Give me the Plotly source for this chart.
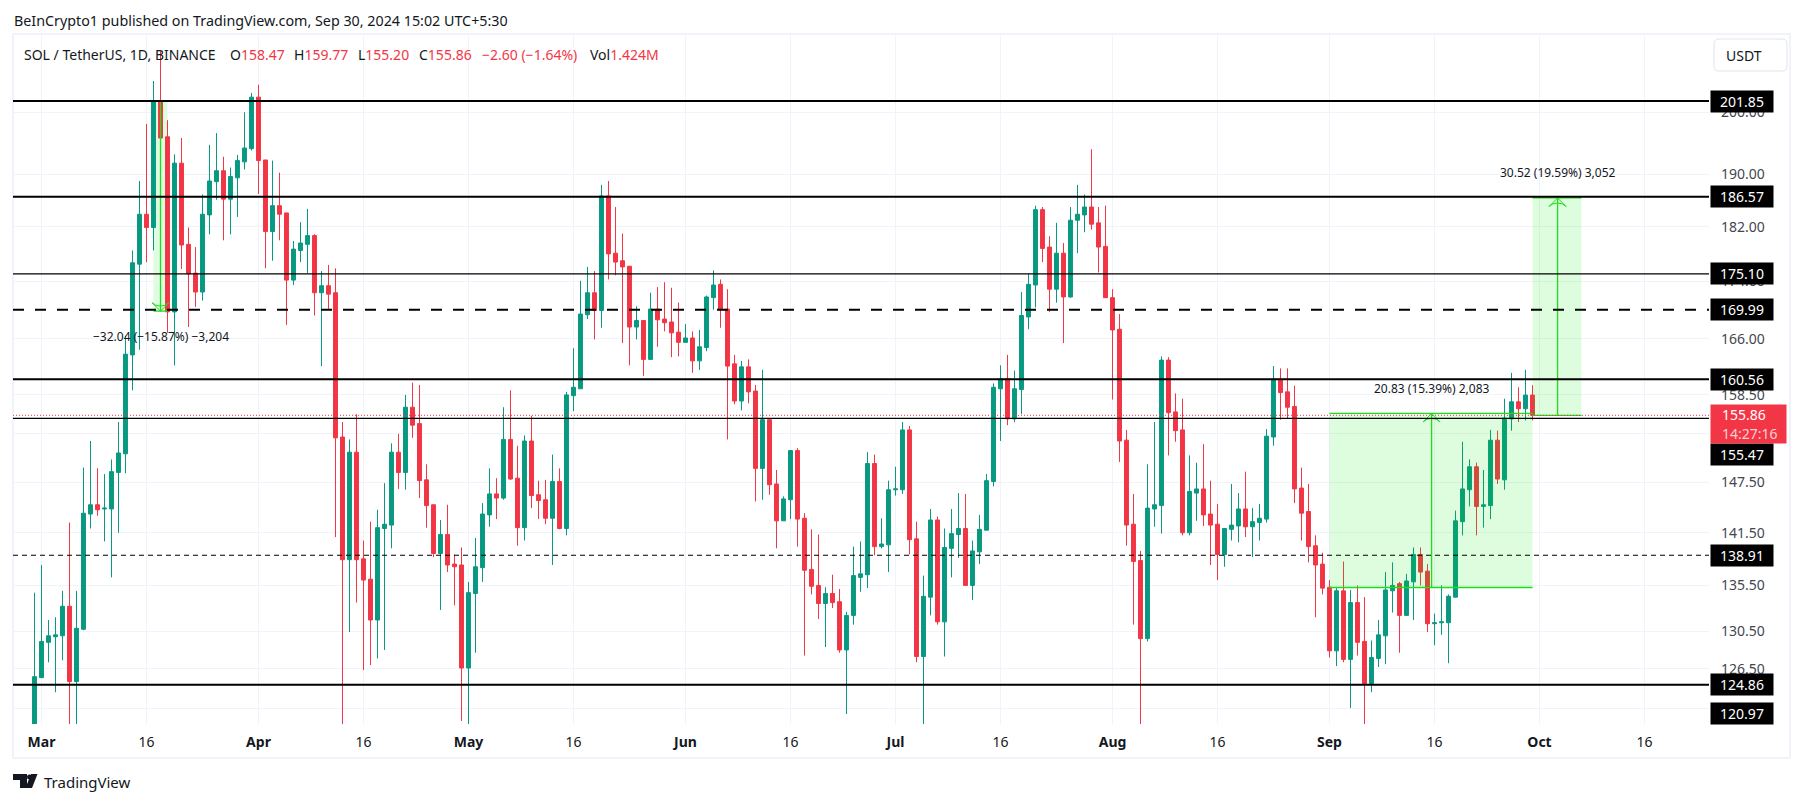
import math
import pandas as pd
import plotly.graph_objects as go

# Daily SOL/USDT candles, Feb 29 then one row per month
opens_feb = [117.4]
highs_feb = [134.7]
lows_feb = [116.4]
closes_feb = [125.7]

opens_mar = [125.6,129.3,129.9,130.0,133.2,125.2,130.7,143.7,144.8,144.3,144.3,148.7,151.0,163.8,176.5,183.9,181.9,201.85,196.0,169.7,191.8,179.4,175.2,172.5,183.8,188.9,190.6,186.2,189.5,192.0,194.1]
highs_mar = [137.8,131.7,132.0,134.9,142.7,134.9,149.3,152.6,149.2,148.5,150.3,155.0,166.4,178.5,189.0,198.1,205.2,210.3,198.7,193.2,195.8,181.9,179.0,186.9,194.7,196.6,192.8,191.1,193.1,200.0,203.2]
lows_mar = [125.6,127.2,124.1,127.4,120.3,119.8,130.6,142.0,143.5,140.5,136.4,141.5,148.6,159.1,164.5,176.8,178.5,193.9,166.8,162.4,175.8,167.6,170.4,171.3,180.9,186.1,180.0,180.9,183.5,190.8,193.8]
closes_mar = [129.4,130.0,130.1,133.2,125.2,130.8,143.8,144.8,144.2,144.4,148.8,151.1,163.9,176.7,183.9,181.9,201.85,195.8,169.7,191.8,179.3,175.1,172.5,183.9,189.0,190.6,186.2,189.7,192.2,194.2,202.5]

opens_apr = [202.5,192.3,181.3,185.2,184.1,174.2,178.5,179.4,180.7,172.4,173.4,172.4,153.1,138.4,151.2,138.5,136.2,131.7,142.0,142.4,151.2,148.7,156.9,154.8,147.8,144.8,139.1,141.3,137.9,137.8]
highs_apr = [204.6,192.3,192.2,190.3,184.1,179.9,182.7,184.7,180.9,175.5,176.4,175.9,155.0,152.8,156.0,140.6,142.8,144.2,147.4,152.3,153.5,158.5,160.1,159.8,149.7,144.8,143.0,144.8,139.0,139.8]
lows_apr = [187.0,175.9,177.0,180.0,167.9,173.5,176.8,175.2,169.2,162.3,170.0,141.0,117.4,130.4,133.6,126.4,126.9,127.6,128.5,139.7,146.7,146.6,153.0,145.6,142.1,138.7,132.8,137.0,133.3,121.2]
closes_apr = [192.2,181.3,185.2,183.9,174.2,178.7,179.6,180.7,172.4,173.4,172.2,153.0,138.4,151.2,138.4,136.1,131.7,142.1,142.5,151.2,148.7,156.9,154.6,147.7,144.7,139.1,141.3,137.8,137.6,126.6]

opens_may = [126.6,134.6,137.5,143.6,146.1,145.6,152.8,148.0,142.1,152.6,146.0,145.4,143.2,147.6,142.0,158.4,159.3,169.3,172.4,169.9,186.7,178.1,177.0,176.2,167.6,168.5,163.2,170.1,168.7,168.3,166.9]
highs_may = [135.9,140.9,145.0,149.2,148.0,156.9,159.1,152.0,153.3,155.8,147.7,147.8,150.9,149.2,158.9,164.7,174.1,176.1,175.5,188.4,189.0,185.0,181.0,176.2,170.5,168.5,172.4,173.2,173.9,173.1,171.0]
lows_may = [120.3,128.2,135.9,142.2,143.1,145.4,147.8,140.0,140.6,144.4,143.1,142.5,137.8,141.9,141.2,156.4,159.3,168.7,165.9,167.5,174.3,174.9,165.4,162.4,165.9,161.0,163.2,164.9,167.0,163.5,163.6]
closes_may = [134.7,137.6,143.7,146.1,145.6,152.8,147.9,142.1,152.6,145.9,145.3,143.2,147.6,142.0,158.5,159.5,169.4,172.4,169.9,186.7,178.0,176.8,176.1,167.6,168.5,163.2,170.1,168.6,168.2,166.8,165.5]

opens_jun = [165.5,166.1,163.0,164.8,171.7,173.6,170.1,162.6,157.7,162.2,159.0,149.2,155.3,147.3,142.9,145.4,151.4,143.2,137.3,135.5,133.5,134.6,133.7,128.5,132.2,136.4,136.7,149.8,139.9,140.1]
highs_jun = [168.0,167.0,167.2,172.0,175.6,174.3,172.9,163.8,163.0,163.2,159.8,161.8,155.3,149.0,145.8,151.4,151.7,143.8,141.9,141.3,135.3,136.7,135.1,132.6,139.9,140.5,151.2,150.9,143.2,147.7]
lows_jun = [165.5,161.4,161.8,164.3,170.0,167.5,152.8,157.3,156.5,157.4,145.2,145.4,146.0,139.7,142.9,143.1,139.9,127.9,134.5,131.8,128.8,133.0,128.2,121.9,131.2,134.8,135.2,138.9,139.7,137.0]
closes_jun = [166.1,163.0,164.9,171.8,173.5,170.0,162.3,157.7,162.2,158.9,149.2,155.3,147.2,142.9,145.5,151.4,143.1,137.2,135.4,133.5,134.6,133.6,128.5,132.2,136.6,136.8,149.8,139.9,140.2,146.6]

opens_jul = [146.6,146.6,154.0,140.8,127.8,134.2,143.0,131.5,139.7,141.3,142.0,135.5,139.3,141.8,147.6,159.3,160.6,155.4,159.2,169.0,173.5,184.6,179.0,172.9,178.1,171.8,183.0,183.8,185.0,182.6,179.1]
highs_jul = [149.4,155.0,154.5,142.8,136.6,144.3,143.4,142.0,144.3,146.2,146.1,140.6,143.6,148.5,160.0,162.4,163.8,161.7,172.5,175.1,185.2,185.0,180.6,182.6,179.6,185.0,188.4,186.9,194.0,185.0,185.2]
lows_jul = [145.9,146.1,139.0,127.2,120.3,132.2,131.2,127.8,136.4,138.6,135.5,133.9,137.9,141.8,147.0,152.6,154.6,155.0,156.0,167.3,170.3,176.8,169.7,171.0,165.4,171.7,178.1,181.2,181.6,175.3,171.7]
closes_jul = [146.7,154.0,140.7,127.8,134.3,143.0,131.5,139.8,141.4,142.0,135.5,139.4,141.9,147.7,159.5,160.6,155.4,159.3,169.2,173.6,184.6,178.8,172.9,178.1,171.8,183.0,183.9,185.0,182.4,179.0,171.7]

opens_aug = [171.7,167.3,152.7,142.5,138.3,129.7,144.3,144.7,163.1,156.3,154.0,141.5,146.2,146.7,143.7,142.5,139.0,141.9,142.3,144.3,142.2,142.7,143.1,153.1,160.6,158.9,157.0,146.8,144.0,140.0,137.9]
highs_aug = [172.9,169.4,154.0,146.1,139.4,149.7,155.0,163.6,163.5,158.7,158.0,150.8,149.9,152.2,147.7,144.9,142.0,147.3,146.2,148.8,144.4,144.9,154.1,162.3,162.0,162.0,159.7,149.3,147.3,141.2,139.2]
lows_aug = [157.9,150.0,140.0,131.2,120.3,129.4,142.2,141.4,150.8,152.5,141.2,141.2,142.9,142.3,137.8,136.1,137.6,140.6,140.4,141.0,138.7,140.6,142.7,152.0,155.3,155.5,145.0,140.6,138.1,132.0,134.5]
closes_aug = [167.2,152.6,142.4,138.2,129.7,144.4,144.8,163.1,156.2,153.9,141.5,146.4,146.7,143.6,142.4,139.0,142.0,142.4,144.3,142.2,142.8,143.2,153.2,160.6,158.8,156.9,146.7,143.8,139.9,137.8,135.2]

opens_sep = [135.3,128.4,134.9,127.5,133.6,129.4,125.0,127.6,130.0,134.9,135.7,132.2,135.9,139.0,137.1,131.3,131.4,131.4,134.2,142.8,146.6,149.4,144.6,144.7,152.7,147.8,155.4,157.6,156.7,158.47]
highs_sep = [136.1,135.2,138.2,135.0,135.5,134.2,129.5,131.7,137.0,138.1,135.9,136.8,139.8,139.8,137.9,132.4,135.5,134.5,144.1,152.5,150.3,149.9,149.0,154.0,153.9,158.0,161.4,159.5,161.8,159.77]
lows_sep = [127.7,126.8,127.2,122.5,127.9,120.3,124.1,126.7,127.0,132.5,128.2,132.2,131.7,135.5,130.4,129.0,130.1,127.1,134.2,141.2,144.6,141.2,142.1,143.1,147.3,146.6,153.9,155.0,155.2,155.20]
closes_sep = [128.4,134.9,127.5,133.6,129.3,125.0,127.7,130.1,135.0,135.5,132.2,136.0,139.0,137.0,131.3,131.4,131.5,134.3,142.9,146.7,149.4,144.6,144.8,152.7,147.9,155.5,157.6,156.7,158.47,155.86]

opens = opens_feb + opens_mar + opens_apr + opens_may + opens_jun + opens_jul + opens_aug + opens_sep
highs = highs_feb + highs_mar + highs_apr + highs_may + highs_jun + highs_jul + highs_aug + highs_sep
lows = lows_feb + lows_mar + lows_apr + lows_may + lows_jun + lows_jul + lows_aug + lows_sep
closes = closes_feb + closes_mar + closes_apr + closes_may + closes_jun + closes_jul + closes_aug + closes_sep
dates = pd.date_range("2024-02-29", "2024-09-30", freq="D")

# Horizontal levels drawn on the chart
solid_thick = [201.85, 186.57, 160.56, 124.86]
solid_thin = [175.10, 155.47]
dashed_thick = [169.99]
dashed_thin = [138.91]
last_price = 155.86
label_prices = ["201.85", "186.57", "175.10", "169.99", "160.56", "138.91", "124.86"]

# Price axis ticks, two of them sit fully behind the price labels
y_ticks = [122.5, 126.5, 130.5, 135.5, 141.5, 147.5, 153.5, 158.5, 166.0, 174.0, 182.0, 190.0, 200.0]
y_labels = ["", "126.50", "130.50", "135.50", "141.50", "147.50", "", "158.50", "166.00", "174.00", "182.00", "190.00", "200.00"]
x_ticks = ["2024-03-01", "2024-03-16", "2024-04-01", "2024-04-16", "2024-05-01", "2024-05-16", "2024-06-01", "2024-06-16",
           "2024-07-01", "2024-07-16", "2024-08-01", "2024-08-16", "2024-09-01", "2024-09-16", "2024-10-01", "2024-10-16"]
x_labels = ["<b>Mar</b>", "16", "<b>Apr</b>", "16", "<b>May</b>", "16", "<b>Jun</b>", "16",
            "<b>Jul</b>", "16", "<b>Aug</b>", "16", "<b>Sep</b>", "16", "<b>Oct</b>", "16"]

# Price range measurements: start, end, arrow date, from price, to price, label
measure_start = ["2024-03-17", "2024-09-01", "2024-09-30"]
measure_end = ["2024-03-19", "2024-09-30", "2024-10-07"]
measure_arrow = ["2024-03-18", "2024-09-15 14:00", "2024-10-03 14:00"]
measure_from = [201.85, 135.27, 155.86]
measure_to = [169.81, 156.10, 186.38]
measure_text = ["\u221232.04 (\u221215.87%) \u22123,204", "20.83 (15.39%) 2,083", "30.52 (19.59%) 3,052"]
measure_text_price = [166.3, 159.4, 190.3]

FONT = "Noto Sans"
DARK = "#131722"
UP = "#089981"
DOWN = "#F23645"
GREEN_LINE = "#1EDC1E"
GREEN_FILL = "rgba(0,230,0,0.13)"
GRID = "#F0F3FA"

# Plot area inside the 1804x803 picture
W, H = 1804, 803
LEFT, RIGHT, TOP, BOTTOM = 13, 1709, 34, 724


def px(x):
    return (x - LEFT) / (RIGHT - LEFT)


def py(y):
    return (BOTTOM - y) / (BOTTOM - TOP)


fig = go.Figure()

fig.add_trace(go.Candlestick(
    x=dates, open=opens, high=highs, low=lows, close=closes,
    increasing=dict(line=dict(color=UP, width=1), fillcolor=UP),
    decreasing=dict(line=dict(color=DOWN, width=1), fillcolor=DOWN),
    whiskerwidth=0, hoverinfo="skip", showlegend=False,
))

shapes = []

# Outer frame
shapes.append(dict(type="rect", xref="paper", yref="paper", x0=px(13), x1=px(1790), y0=py(758), y1=py(34),
                   line=dict(color=GRID, width=2), layer="below"))

# Measurement boxes, the first one sits behind the candles
for i in range(3):
    shapes.append(dict(type="rect", xref="x", yref="y", x0=measure_start[i], x1=measure_end[i],
                       y0=measure_from[i], y1=measure_to[i], line=dict(width=0), fillcolor=GREEN_FILL,
                       layer="below" if i == 0 else "above"))
    for price in (measure_from[i], measure_to[i]):
        if i == 0 and price == measure_from[i]:
            continue
        shapes.append(dict(type="line", xref="x", yref="y", x0=measure_start[i], x1=measure_end[i],
                           y0=price, y1=price, line=dict(color=GREEN_LINE, width=1.3)))
    shapes.append(dict(type="line", xref="x", yref="y", x0=measure_arrow[i], x1=measure_arrow[i],
                       y0=measure_from[i], y1=measure_to[i], line=dict(color=GREEN_LINE, width=1.3)))

# Levels
for price in solid_thick:
    shapes.append(dict(type="line", xref="paper", yref="y", x0=0, x1=1, y0=price, y1=price, line=dict(color="black", width=2)))
for price in solid_thin:
    shapes.append(dict(type="line", xref="paper", yref="y", x0=0, x1=1, y0=price, y1=price, line=dict(color="black", width=1.2)))
for price in dashed_thick:
    shapes.append(dict(type="line", xref="paper", yref="y", x0=0, x1=1, y0=price, y1=price,
                       line=dict(color="black", width=2, dash="11px,11px")))
for price in dashed_thin:
    shapes.append(dict(type="line", xref="paper", yref="y", x0=0, x1=1, y0=price, y1=price,
                       line=dict(color="black", width=1.2, dash="5px,4px")))
shapes.append(dict(type="line", xref="paper", yref="y", x0=0, x1=1, y0=last_price, y1=last_price,
                   line=dict(color=DOWN, width=1, dash="1px,2px")))

# USDT button with round corners
bx0, bx1, by0, by1, r = 1714, 1787, 39, 71, 5
button = (f"M {px(bx0 + r)} {py(by0)} L {px(bx1 - r)} {py(by0)} Q {px(bx1)} {py(by0)} {px(bx1)} {py(by0 + r)} "
          f"L {px(bx1)} {py(by1 - r)} Q {px(bx1)} {py(by1)} {px(bx1 - r)} {py(by1)} "
          f"L {px(bx0 + r)} {py(by1)} Q {px(bx0)} {py(by1)} {px(bx0)} {py(by1 - r)} "
          f"L {px(bx0)} {py(by0 + r)} Q {px(bx0)} {py(by0)} {px(bx0 + r)} {py(by0)} Z")
shapes.append(dict(type="path", xref="paper", yref="paper", path=button, line=dict(color="#E0E3EB", width=1)))

# TradingView logo
logo_bar = (f"M {px(13)} {py(774)} L {px(27)} {py(774)} L {px(27)} {py(788)} L {px(20)} {py(788)} "
            f"L {px(20)} {py(780)} L {px(13)} {py(780)} Z")
logo_slant = (f"M {px(31)} {py(774)} L {px(37.5)} {py(774)} L {px(32)} {py(788)} L {px(25.5)} {py(788)} Z")
shapes.append(dict(type="path", xref="paper", yref="paper", path=logo_bar, fillcolor=DARK, line=dict(width=0)))
shapes.append(dict(type="path", xref="paper", yref="paper", path=logo_slant, fillcolor=DARK, line=dict(width=0)))
shapes.append(dict(type="circle", xref="paper", yref="paper", x0=px(27), x1=px(32), y0=py(779.5), y1=py(774.5),
                   fillcolor=DARK, line=dict(width=0)))

annotations = []


def text_note(text, x, y, size, color=DARK, xanchor="left"):
    annotations.append(dict(text=text, xref="paper", yref="paper", x=px(x), y=py(y), xanchor=xanchor, yanchor="middle",
                            showarrow=False, align="left", font=dict(family=FONT, size=size, color=color), borderpad=0))


text_note("BeInCrypto1 published on TradingView.com, Sep 30, 2024 15:02 UTC+5:30", 13, 20, 14.3)

# Symbol row, every group placed on its own
red = f'<span style="color:{DOWN}">'
text_note("SOL / TetherUS, 1D, BINANCE", 23, 54, 14)
text_note(f"O{red}158.47</span>", 229, 54, 14)
text_note(f"H{red}159.77</span>", 293, 54, 14)
text_note(f"L{red}155.20</span>", 357, 54, 14)
text_note(f"C{red}155.86</span>", 418, 54, 14)
text_note(f"{red}\u22122.60 (\u22121.64%)</span>", 481, 54, 14)
text_note(f"Vol{red}1.424M</span>", 589, 54, 14)

text_note("USDT", 1725, 55, 14)
text_note("TradingView", 43, 782, 15)

# Text above each measurement
for i in range(3):
    annotations.append(dict(text=measure_text[i], xref="x", yref="y", x=measure_arrow[i], y=math.log10(measure_text_price[i]),
                            xanchor="center", yanchor="middle", showarrow=False, font=dict(family=FONT, size=12, color=DARK)))

# Price labels on the axis
for label in label_prices:
    annotations.append(dict(text=label, xref="paper", yref="y", x=1, xshift=1, y=math.log10(float(label)), xanchor="left",
                            yanchor="middle", showarrow=False, bgcolor="black", width=62, height=21, borderpad=0,
                            font=dict(family=FONT, size=14, color="white")))
annotations.append(dict(text="155.47", xref="paper", yref="paper", x=1, xshift=1, y=py(455), xanchor="left",
                        yanchor="middle", showarrow=False, bgcolor="black", width=62, height=21, borderpad=0,
                        font=dict(family=FONT, size=14, color="white")))
annotations.append(dict(text="120.97", xref="paper", yref="paper", x=1, xshift=1, y=py(713.5), xanchor="left",
                        yanchor="middle", showarrow=False, bgcolor="black", width=62, height=21, borderpad=0,
                        font=dict(family=FONT, size=14, color="white")))
annotations.append(dict(text='&nbsp;&nbsp;&nbsp;155.86<br>&nbsp;&nbsp;&nbsp;<span style="color:#FAD0D4">14:27:16</span>',
                        xref="paper", yref="paper", x=1, xshift=1, y=py(424), xanchor="left", yanchor="middle",
                        showarrow=False, bgcolor=DOWN, width=75, height=38, borderpad=0, align="left",
                        font=dict(family=FONT, size=14, color="white")))

# Arrow heads of the measurements
fig.add_trace(go.Scatter(
    x=measure_arrow, y=measure_to, mode="markers", hoverinfo="skip", showlegend=False,
    marker=dict(symbol="arrow-wide-open", size=12, angle=[180, 0, 0], color=GREEN_LINE, line=dict(width=1)),
))

fig.update_layout(
    width=W, height=H, autosize=False,
    margin=dict(l=LEFT, r=W - RIGHT, t=TOP, b=H - BOTTOM, pad=0),
    paper_bgcolor="white", plot_bgcolor="white",
    font=dict(family=FONT, size=14, color=DARK),
    boxgap=0.2, showlegend=False, dragmode=False,
    shapes=shapes, annotations=annotations,
)
fig.update_xaxes(
    type="date", range=["2024-02-25 22:17", "2024-10-25 05:08"], rangeslider=dict(visible=False),
    tickmode="array", tickvals=x_ticks, ticktext=x_labels, tickangle=0, showgrid=True, gridcolor=GRID, gridwidth=1,
    ticks="", showline=False, zeroline=False, ticklabelstandoff=8, tickfont=dict(family=FONT, size=14, color=DARK),
)
fig.update_yaxes(
    type="log", range=[math.log10(120.9), math.log10(213.3)], side="right",
    tickmode="array", tickvals=y_ticks, ticktext=y_labels, showgrid=True, gridcolor=GRID, gridwidth=1,
    ticks="", showline=False, zeroline=False, ticklabelstandoff=11, tickfont=dict(family=FONT, size=14, color="#434651"),
)

fig.write_html("out.html", config={"displayModeBar": False},
               post_script="document.body.style.margin='0';document.body.style.overflow='hidden';")
